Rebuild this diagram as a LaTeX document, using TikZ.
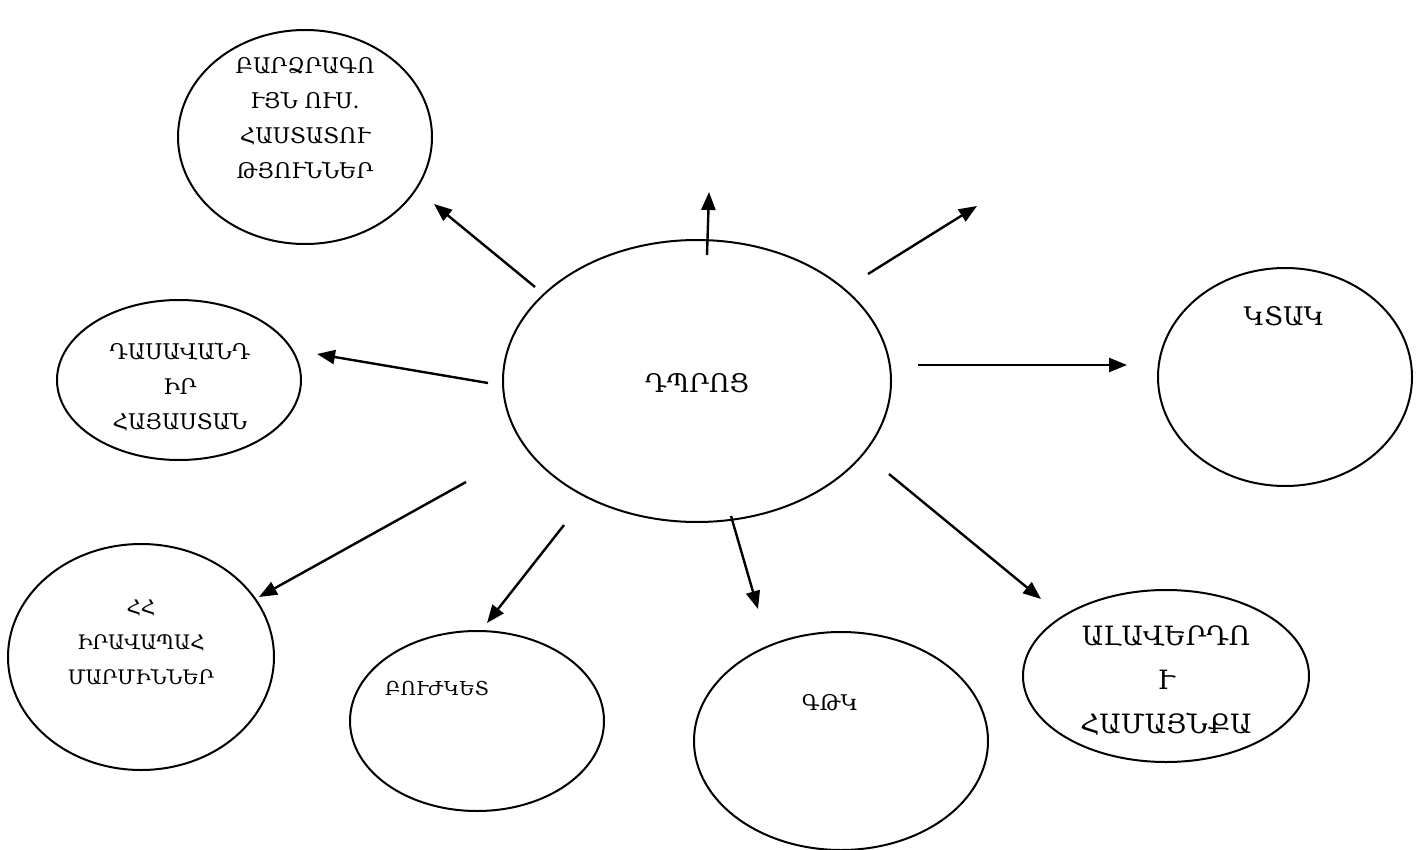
\documentclass[tikz,border=0pt]{standalone}
\usepackage{fontspec}
\setmainfont{DejaVu Serif}
\usetikzlibrary{shapes.geometric,arrows.meta}
\tikzset{
  blob/.style={draw=black, line width=1pt, ellipse, inner sep=0pt},
  lbl/.style={align=center, font=\fontsize{10.8}{17.5}\selectfont, inner sep=0pt},
  mid/.style={align=center, font=\fontsize{12.8}{17.5}\selectfont, inner sep=0pt},
  big/.style={align=center, font=\fontsize{13.3}{22}\selectfont, inner sep=0pt},
  arr/.style={line width=1.2pt, -{Triangle[length=9pt,width=7pt]}}
}
\begin{document}
\begin{tikzpicture}[x=0.5pt,y=-0.5pt]
\useasboundingbox (0,0) rectangle (1418,850);
% ellipses
\node[blob, minimum width=127pt, minimum height=107pt] (tl) at (305,137) {};
\node[blob, minimum width=122pt, minimum height=80pt] (l) at (179,380) {};
\node[blob, minimum width=194pt, minimum height=141pt] (c) at (697,381) {};
\node[blob, minimum width=127pt, minimum height=109pt] (r) at (1285,377) {};
\node[blob, minimum width=133pt, minimum height=113pt] (bl) at (141,657) {};
\node[blob, minimum width=127pt, minimum height=90pt] (bu) at (477,721) {};
\node[blob, minimum width=147pt, minimum height=109pt] (g) at (841,741) {};
\node[blob, minimum width=143pt, minimum height=86pt] (al) at (1166,676) {};
% labels
\node[lbl] (tltxt) at (305,118) {ԲԱՐՁՐԱԳՈ\\ՒՅՆ ՈՒՍ.\\ՀԱՍՏԱՏՈՒ\\ԹՅՈՒՆՆԵՐ};
\node[lbl] (ltxt) at (180,387) {ԴԱՍԱՎԱՆԴ\\ԻՐ\\ՀԱՅԱՍՏԱՆ};
\node[lbl, font=\fontsize{10}{17.5}\selectfont] (bltxt) at (141,642) {ՀՀ\\ԻՐԱՎԱՊԱՀ\\ՄԱՐՄԻՆՆԵՐ};
\node[lbl, font=\fontsize{9.6}{17.5}\selectfont] (butxt) at (437,688) {ԲՈՒԺԿԵՏ};
\node[lbl, font=\fontsize{10.8}{17.5}\selectfont] (gtxt) at (830,703) {ԳԹԿ};
\node[mid] (ctxt) at (697,383) {ԴՊՐՈՑ};
\node[mid] (rtxt) at (1284,316) {ԿՏԱԿ};
\node[big] (altxt) at (1166,680) {ԱԼԱՎԵՐԴՈ\\Ւ\\ՀԱՄԱՅՆՔԱ};
% arrow anchors
\coordinate (s1) at (535,287); \coordinate (e1) at (434,204);
\coordinate (s2) at (707,255); \coordinate (e2) at (709,192);
\coordinate (s3) at (868,274); \coordinate (e3) at (977,206);
\coordinate (s4) at (918,365); \coordinate (e4) at (1127,365);
\coordinate (s5) at (488,383); \coordinate (e5) at (317,354);
\coordinate (s6) at (466,482); \coordinate (e6) at (259,597);
\coordinate (s7) at (564,525); \coordinate (e7) at (487,623);
\coordinate (s8) at (731,516); \coordinate (e8) at (758,609);
\coordinate (s9) at (889,474); \coordinate (e9) at (1041,599);
\foreach \i in {1,...,9} \draw[arr] (s\i) -- (e\i);
\end{tikzpicture}
\end{document}
